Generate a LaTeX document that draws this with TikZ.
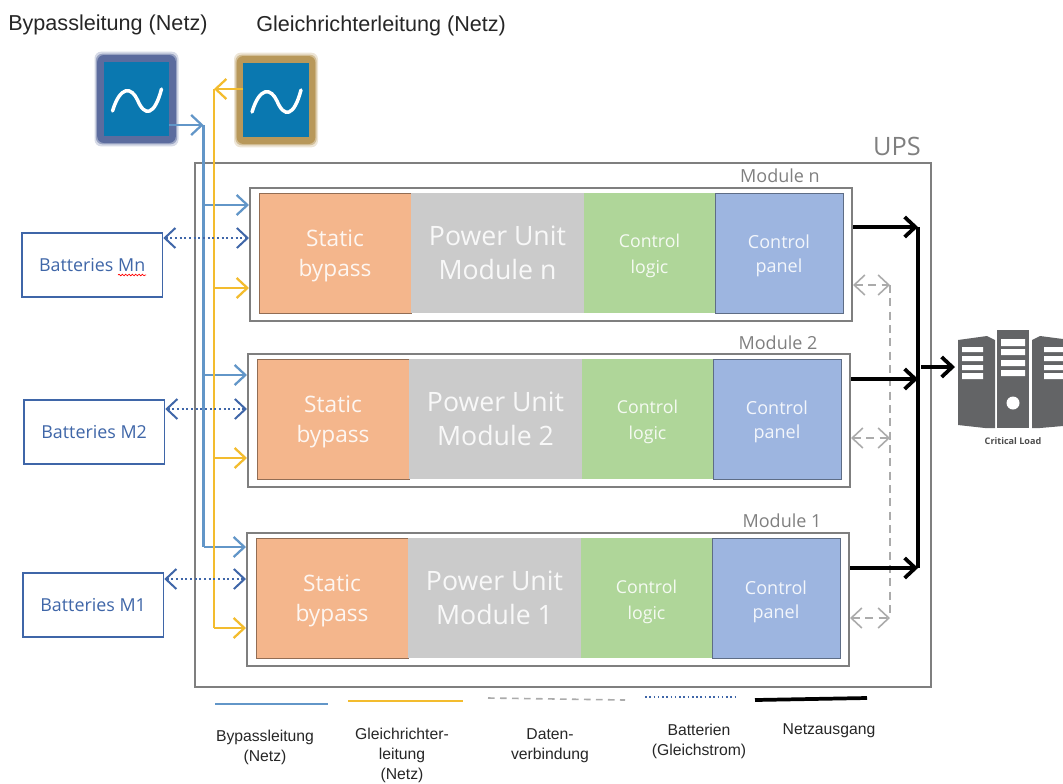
\documentclass[tikz,border=0pt]{standalone}
\usepackage{fontspec}
\setmainfont{Liberation Sans}
\newfontfamily\blockfont{Open Sans}
\usetikzlibrary{arrows.meta, calc, positioning, decorations.pathmorphing}
\definecolor{bypassblue}{HTML}{6296C8}
\definecolor{rectyellow}{HTML}{F3BC2E}
\definecolor{battblue}{HTML}{3F66A8}
\definecolor{datagray}{HTML}{ABABAB}
\definecolor{framegray}{HTML}{7F7F7F}
\definecolor{acblue}{HTML}{0A78B0}
\definecolor{serverdark}{HTML}{636466}
\definecolor{glowblue}{HTML}{5C6C9E}
\definecolor{glowgold}{HTML}{B8985A}
\definecolor{staticfill}{HTML}{F4B68C}
\definecolor{powerfill}{HTML}{CBCBCB}
\definecolor{logicfill}{HTML}{AFD699}
\definecolor{panelfill}{HTML}{9DB5E0}
\tikzset{
    block/.style={anchor=west, inner sep=0pt, outer sep=0pt, minimum height=90pt, align=center, text=white, text opacity=.88},
    staticblock/.style={block, fill=staticfill, draw=staticfill!60!black, line width=.5pt, minimum width=114pt, font=\blockfont\fontsize{17}{22}\selectfont},
    powerblock/.style={block, fill=powerfill, minimum width=129.75pt, font=\blockfont\fontsize{20}{25.5}\selectfont},
    logicblock/.style={block, fill=logicfill, minimum width=98.25pt, font=\blockfont\fontsize{13.3}{19.5}\selectfont},
    panelblock/.style={block, fill=panelfill, draw=panelfill!60!black, line width=.5pt, minimum width=96pt, font=\blockfont\fontsize{13.5}{18}\selectfont},
    modulebox/.style={draw=framegray, line width=1.5pt, fill=white, anchor=north west, minimum width=451.5pt, minimum height=99.75pt, inner sep=0pt},
    modulelabel/.style={text=framegray, font=\blockfont\fontsize{13.5}{15}\selectfont, inner sep=0pt},
    upsbox/.style={draw=framegray, line width=1.5pt, anchor=north west, minimum width=552pt, minimum height=393pt, inner sep=0pt},
    battbox/.style={draw=battblue, line width=1.2pt, fill=white, anchor=north west, minimum width=105.5pt, minimum height=48pt, text=battblue, font=\blockfont\fontsize{13.4}{15}\selectfont},
    acbox/.style={fill=acblue, inner sep=0pt, minimum width=49pt, minimum height=55pt},
    glowbox/.style={fill=#1, rounded corners=5pt, inner sep=0pt, minimum width=59pt, minimum height=66pt},
    acline/.style={draw=white, line width=2.6pt, line cap=round},
    bypassline/.style={draw=bypassblue, line width=1.7pt},
    bypassarrow/.style={bypassline, -{Straight Barb[length=8pt,width=15pt]}},
    rectline/.style={draw=rectyellow, line width=1.7pt},
    rectarrow/.style={rectline, -{Straight Barb[length=8pt,width=15pt]}},
    battarrow/.style={draw=battblue, line width=1.5pt, dotted, {Straight Barb[length=8pt,width=15pt]}-{Straight Barb[length=8pt,width=15pt]}},
    dataline/.style={draw=datagray, line width=1.2pt, dash pattern=on 6pt off 4pt},
    dataarrow/.style={dataline, {Straight Barb[length=8pt,width=15pt]}-{Straight Barb[length=8pt,width=15pt]}},
    mainsline/.style={draw=black, line width=2.8pt},
    mainsarrow/.style={mainsline, -{Straight Barb[length=8pt,width=15pt]}},
    legendtext/.style={align=center, font=\fontsize{11.8}{15}\selectfont, text=black!85, inner sep=0pt},
    titletext/.style={font=\fontsize{16.2}{18}\selectfont, text=black!85, inner sep=0pt}
}
\newcommand{\acwave}[1]{\draw[acline] ($(#1)+(-24,12)$) .. controls ($(#1)+(-16,-14)$) and ($(#1)+(-5,-12)$) .. ($(#1)+(1,1)$) .. controls ($(#1)+(8,18)$) and ($(#1)+(18,17)$) .. ($(#1)+(25,-10)$);}
\newcommand{\lowtext}[1]{\rule{0pt}{#1}}

\begin{document}
\begin{tikzpicture}[x=0.75pt, y=-0.75pt]
	\useasboundingbox (0,0) rectangle (1063,783);
	\node[titletext, anchor=west] (titlebypass) at (8,25) {Bypassleitung (Netz)};
	\node[titletext, anchor=west] (titlerect) at (256,26) {Gleichrichterleitung (Netz)};
	\node[upsbox] (ups) at (194,162) {};
	\node[text=framegray, font=\blockfont\fontsize{19}{21}\selectfont, inner sep=0pt] (upslabel) at (897,146) {UPS};
	% ---- sources
	\node[glowbox=glowblue, opacity=.25, minimum width=63pt, minimum height=71pt] (glowbypassa) at (136.5,99) {};
	\node[glowbox=glowblue, opacity=.5, minimum width=61pt, minimum height=68pt] (glowbypassb) at (136.5,99) {};
	\node[glowbox=glowblue] (glowbypass) at (136.5,99) {};
	\node[acbox] (acbypass) at (136.5,99) {};
	\acwave{acbypass}
	\node[glowbox=glowgold, opacity=.25, minimum width=63pt, minimum height=71pt] (glowrecta) at (276,100) {};
	\node[glowbox=glowgold, opacity=.5, minimum width=61pt, minimum height=68pt] (glowrectb) at (276,100) {};
	\node[glowbox=glowgold] (glowrect) at (276,100) {};
	\node[acbox] (acrect) at (276,100) {};
	\acwave{acrect}
	% ---- module n
	\node[modulebox] (modn) at (249,187) {};
	\node[modulelabel] (labeln) at (780,176) {Module n};
	\node[staticblock] (staticn) at (259,253) {\lowtext{17pt}Static\\bypass};
	\node[powerblock, right=0pt of staticn] (powern) {Power Unit\\Module n};
	\node[logicblock, right=0pt of powern] (logicn) {\lowtext{14pt}Control\\logic};
	\node[panelblock, right=0pt of logicn] (paneln) {\lowtext{14pt}Control\\panel};
	% ---- module 2
	\node[modulebox] (modb) at (247,353) {};
	\node[modulelabel] (labelb) at (778,343) {Module 2};
	\node[staticblock] (staticb) at (257,419) {\lowtext{17pt}Static\\bypass};
	\node[powerblock, right=0pt of staticb] (powerb) {Power Unit\\Module 2};
	\node[logicblock, right=0pt of powerb] (logicb) {\lowtext{14pt}Control\\logic};
	\node[panelblock, right=0pt of logicb] (panelb) {\lowtext{14pt}Control\\panel};
	% ---- module 1
	\node[modulebox] (moda) at (246,532) {};
	\node[modulelabel] (labela) at (782,521) {Module 1};
	\node[staticblock] (statica) at (256,598) {\lowtext{17pt}Static\\bypass};
	\node[powerblock, right=0pt of statica] (powera) {Power Unit\\Module 1};
	\node[logicblock, right=0pt of powera] (logica) {\lowtext{16pt}Control\\logic};
	\node[panelblock, right=0pt of logica] (panela) {\lowtext{16pt}Control\\panel};
	% ---- batteries
	\node[battbox] (battn) at (21,232) {Batteries Mn};
	\node[battbox] (battb) at (23,399) {Batteries M2};
	\node[battbox] (batta) at (22,572) {Batteries M1};
	\draw[red, line width=.5pt, decorate, decoration={snake, amplitude=.6pt, segment length=2.5pt}] (118,275) -- (146,275);
	% ---- bypass feed
	\coordinate (bypasstop) at (203.5,125);
	\coordinate (bypassbot) at (203.5,547);
	\coordinate (rectstart) at (214,89);
	\coordinate (rectbot) at (214,628);
	\draw[bypassarrow] (acbypass.east |- bypasstop) to (bypasstop);
	\draw[bypassline] (bypasstop) to (bypassbot);
	\draw[bypassarrow] (203.5,205) to (modn.west |- 0,205);
	\draw[bypassarrow] (203.5,375) to (modb.west |- 0,375);
	\draw[bypassarrow] (bypassbot) to (moda.west |- bypassbot);
	% ---- rectifier feed
	\draw[rectarrow] (acrect.west |- rectstart) to (rectstart);
	\draw[rectline] (rectstart) to (rectbot);
	\draw[rectarrow] (214,288) to (modn.west |- 0,288);
	\draw[rectarrow] (214,458) to (modb.west |- 0,458);
	\draw[rectarrow] (rectbot) to (moda.west |- rectbot);
	% ---- battery links
	\draw[battarrow] (battn.east |- 0,238) to (modn.west |- 0,238);
	\draw[battarrow] (battb.east |- 0,409) to (modb.west |- 0,409);
	\draw[battarrow] (batta.east |- 0,579) to (moda.west |- 0,579);
	% ---- data link
	\coordinate (datatop) at (890,285);
	\coordinate (datamid) at (890,438);
	\coordinate (databot) at (890,618);
	\draw[dataline] (datatop) to (databot);
	\draw[dataarrow] (modn.east |- datatop) to (datatop);
	\draw[dataarrow] (modb.east |- datamid) to (datamid);
	\draw[dataarrow] (moda.east |- databot) to (databot);
	% ---- mains output
	\coordinate (mainstop) at (918,227);
	\coordinate (mainsmid) at (918,379);
	\coordinate (mainsbot) at (918,568);
	\coordinate (mainsout) at (921,367);
	\draw[mainsline] (mainstop) to (mainsbot);
	\draw[mainsarrow] (modn.east |- mainstop) to (mainstop);
	\draw[mainsarrow] (modb.east |- mainsmid) to (mainsmid);
	\draw[mainsarrow] (moda.east |- mainsbot) to (mainsbot);
	% ---- critical load
	\fill[serverdark] (958,340) -- (987,336) -- (995,340) -- (995,428) -- (985,428) -- (958,425) -- cycle;
	\fill[serverdark] (1032,340) -- (1040,336) -- (1063,339) -- (1063,426) -- (1040,428) -- (1032,428) -- cycle;
	\fill[serverdark] (997,330) rectangle (1029,428);
	\fill[white] (962,347) rectangle (983,352) (962,356) rectangle (983,361) (962,365) rectangle (983,370) (962,373) rectangle (983,379);
	\fill[white] (1001,339) rectangle (1025,346) (1001,349) rectangle (1025,355) (1001,360) rectangle (1025,366) (1001,370) rectangle (1025,376);
	\fill[white] (1044,347) rectangle (1063,352) (1044,356) rectangle (1063,361) (1044,365) rectangle (1063,370) (1044,373) rectangle (1063,379);
	\fill[white] (1013,403) circle (6.5);
	\node[font=\blockfont\bfseries\fontsize{6.8}{8}\selectfont, text=black!70, inner sep=0pt] (loadlabel) at (1013,441) {Critical Load};
	\coordinate (loadin) at (955,367);
	\draw[mainsarrow] (mainsout) to (loadin);
	% ---- legend
	\coordinate (legaa) at (215,704);
	\coordinate (legab) at (328,704);
	\coordinate (legba) at (348,701);
	\coordinate (legbb) at (463,701);
	\coordinate (legca) at (488,698);
	\coordinate (legcb) at (625,700);
	\coordinate (legda) at (645,697);
	\coordinate (legdb) at (735,697);
	\coordinate (legea) at (755,700);
	\coordinate (legeb) at (867,698);
	\draw[bypassline] (legaa) to (legab);
	\draw[rectline] (legba) to (legbb);
	\draw[dataline, dash pattern=on 5pt off 4pt] (legca) to (legcb);
	\draw[draw=battblue, line width=1.2pt, dotted] (legda) to (legdb);
	\draw[mainsline] (legea) to (legeb);
	\node[legendtext] (textbypass) at (265,747) {Bypassleitung\\(Netz)};
	\node[legendtext] (textrect) at (402,755) {Gleichrichter-\\leitung\\(Netz)};
	\node[legendtext] (textdata) at (550,746) {Daten-\\verbindung};
	\node[legendtext] (textbatt) at (699,741) {Batterien\\(Gleichstrom)};
	\node[legendtext] (textmains) at (829,731) {Netzausgang};
\end{tikzpicture}
\end{document}
